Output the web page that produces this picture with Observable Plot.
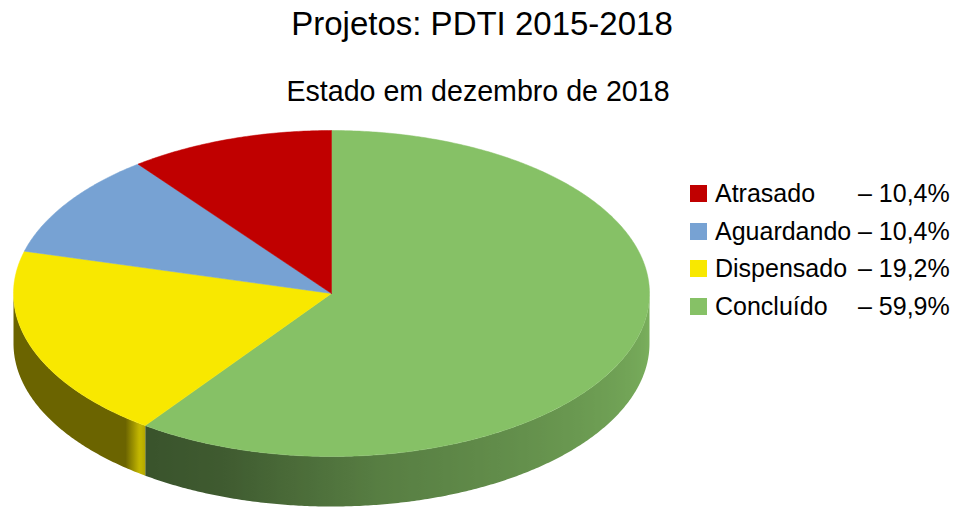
<!DOCTYPE html>
<html>
<head>
<meta charset="utf-8">
<script src="https://cdn.jsdelivr.net/npm/d3@7"></script>
<script src="https://cdn.jsdelivr.net/npm/@observablehq/plot@0.6"></script>
<style>
  html, body { margin: 0; padding: 0; background: #fff; }
  body { font-family: "Liberation Sans", Arial, sans-serif; color: #000; }
  #wrap { position: relative; width: 956px; height: 508px; overflow: hidden; }
  #chart { position: absolute; left: 0; top: 0; }
  .t { position: absolute; text-align: center; line-height: 1; white-space: nowrap; }
  #title { left: 0; width: 964px; top: 7px; font-size: 33px; }
  #subtitle { left: 0; width: 956px; top: 77px; font-size: 28.6px; }
  .row { position: absolute; left: 0; height: 25px; font-size: 25px; line-height: 25px; white-space: pre; }
  .sw { position: absolute; left: 690px; width: 17px; height: 17px; }
  .nm { position: absolute; left: 715px; top: 0; }
  .vl { position: absolute; left: 858px; top: 0; }
</style>
</head>
<body>
<div id="wrap">
  <div id="chart"></div>
  <div id="title" class="t">Projetos: PDTI 2015-2018</div>
  <div id="subtitle" class="t">Estado em dezembro de 2018</div>
  <div id="legend"></div>
</div>
<script>
// ---- data ----
const categories = ["Atrasado", "Aguardando", "Dispensado", "Concluído"];
const values = [10.4, 10.4, 19.2, 59.9];
const colors = ["#c00000", "#77a2d3", "#f8e800", "#86c166"];

// ---- geometry (unit ellipse, drawn through Plot scales) ----
const depth = 0.307;           // wall height in y-units
const rad = Math.PI / 180;

// slices clockwise from 12 o'clock: Concluído, Dispensado, Aguardando, Atrasado
const order = [3, 2, 1, 0];
const pie = d3.pie().sort(null).value(i => values[i]).startAngle(0).endAngle(2 * Math.PI)(order);

const pt = a => ({x: Math.sin(a), y: Math.cos(a)});

// brightness profile of the side walls
function wallShade(i, a) {
  const deg = a / rad;
  if (i === 3) { // green
    const s = d3.scaleLinear().domain([90, 130, 172, 200, 216]).range([0.92, 0.79, 0.65, 0.47, 0.43]).clamp(true);
    return s(deg);
  } else {
    const edge = pie.find(p => p.data === i).startAngle / rad;
    const h = d3.scaleLinear().domain([edge, edge + 1.2, edge + 4.5]).range([0.72, 0.8, 0.43]).clamp(true);
    return h(deg);
  }
}
function shade(hex, b) {
  const c = d3.rgb(hex);
  return d3.rgb(c.r * b, c.g * b, c.b * b).formatHex();
}

// wall polygons (front half only)
const walls = [];
const wallPts = [];
for (const p of pie) {
  const i = p.data;
  const a0 = Math.max(p.startAngle, Math.PI / 2);
  const a1 = Math.min(p.endAngle, 3 * Math.PI / 2);
  if (a1 <= a0) continue;
  const n = Math.max(4, Math.ceil((a1 - a0) / (0.5 * rad)));
  const id = "wall-" + i;
  walls.push({id, i, a0, a1});
  const top = [], bot = [];
  for (let k = 0; k <= n; k++) {
    const a = a0 + (a1 - a0) * k / n;
    const q = pt(a);
    top.push({wall: id, x: q.x, y: q.y});
    bot.push({wall: id, x: q.x, y: q.y - depth});
  }
  wallPts.push(...top, ...bot.reverse(), top[0]);
}

const topPts = [];
for (const p of pie) {
  const i = p.data;
  const n = Math.max(4, Math.ceil((p.endAngle - p.startAngle) / (0.5 * rad)));
  topPts.push({slice: categories[i], x: 0, y: 0, color: colors[i]});
  for (let k = 0; k <= n; k++) {
    const a = p.startAngle + (p.endAngle - p.startAngle) * k / n;
    topPts.push({slice: categories[i], ...pt(a), color: colors[i]});
  }
  topPts.push({slice: categories[i], x: 0, y: 0, color: colors[i]});
}

const wallMarks = walls.map(w =>
  Plot.line(wallPts.filter(d => d.wall === w.id), {
    x: "x", y: "y", fill: `url(#${w.id})`, stroke: "none", curve: "linear"
  })
);

const chart = Plot.plot({
  width: 956,
  height: 508,
  margin: 0,
  style: {background: "transparent"},
  x: {domain: [-1, 1], range: [13, 649], axis: null},
  y: {domain: [-1, 1], range: [456, 130], axis: null},
  marks: [
    ...wallMarks,
    Plot.line(topPts, {x: "x", y: "y", z: "slice", fill: "color", stroke: "color", strokeWidth: 0.5, curve: "linear"})
  ]
});

// horizontal gradients for the walls, positioned through the x scale
const xs = chart.scale("x");
const defs = d3.select(chart).insert("defs", ":first-child");
for (const w of walls) {
  const xa = xs.apply(Math.sin(w.a0)), xb = xs.apply(Math.sin(w.a1));
  const xmin = Math.min(xa, xb), xmax = Math.max(xa, xb);
  const g = defs.append("linearGradient")
    .attr("id", w.id)
    .attr("gradientUnits", "userSpaceOnUse")
    .attr("x1", xmin).attr("x2", xmax).attr("y1", 0).attr("y2", 0);
  const m = 120;
  const stops = [];
  for (let k = 0; k <= m; k++) {
    const a = w.a0 + (w.a1 - w.a0) * k / m;
    const px = xs.apply(Math.sin(a));
    stops.push({o: (px - xmin) / (xmax - xmin), c: shade(colors[w.i], wallShade(w.i, a))});
  }
  stops.sort((u, v) => u.o - v.o);
  for (const s of stops) g.append("stop").attr("offset", s.o).attr("stop-color", s.c);
}
document.getElementById("chart").appendChild(chart);

// ---- legend ----
const legend = document.getElementById("legend");
const fmt = v => v.toFixed(1).replace(".", ",") + "%";
categories.forEach((c, k) => {
  const row = document.createElement("div");
  row.className = "row";
  row.style.top = (181 + k * 37.5) + "px";
  row.style.width = "956px";
  const sw = document.createElement("div");
  sw.className = "sw";
  sw.style.background = colors[k];
  sw.style.top = "4px";
  const nm = document.createElement("span");
  nm.className = "nm";
  nm.textContent = c;
  const vl = document.createElement("span");
  vl.className = "vl";
  vl.textContent = "– " + fmt(values[k]);
  row.append(sw, nm, vl);
  legend.appendChild(row);
});
</script>
</body>
</html>
